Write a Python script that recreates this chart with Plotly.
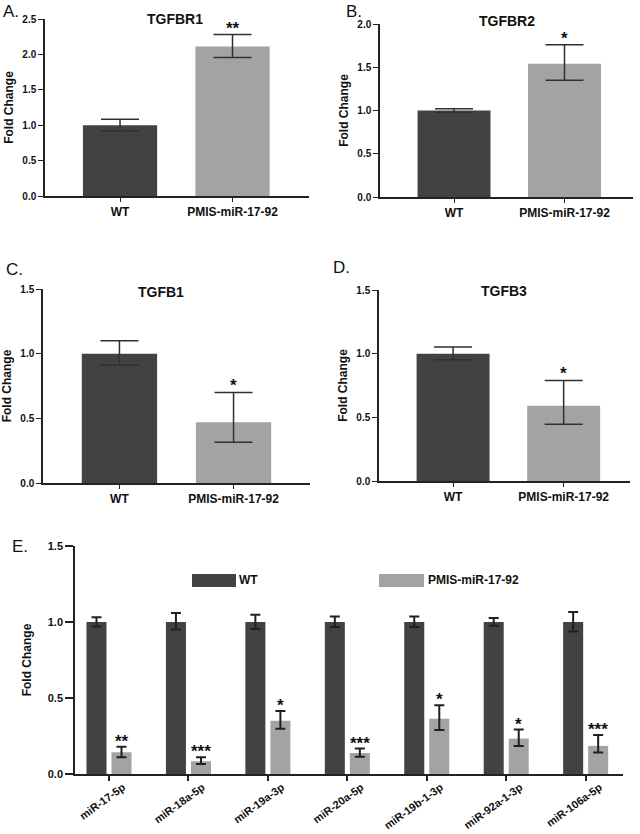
import plotly.graph_objects as go

# ---------------- data ----------------
groups = ["WT", "PMIS-miR-17-92"]

tgfbr1_mean = [1.00, 2.11]
tgfbr1_up = [0.085, 0.17]
tgfbr1_dn = [0.08, 0.155]
tgfbr1_sig = "**"

tgfbr2_mean = [1.00, 1.54]
tgfbr2_up = [0.02, 0.22]
tgfbr2_dn = [0.02, 0.19]
tgfbr2_sig = "*"

tgfb1_mean = [1.00, 0.47]
tgfb1_up = [0.10, 0.23]
tgfb1_dn = [0.09, 0.155]
tgfb1_sig = "*"

tgfb3_mean = [1.00, 0.59]
tgfb3_up = [0.053, 0.20]
tgfb3_dn = [0.047, 0.145]
tgfb3_sig = "*"

mirnas = ["miR-17-5p", "miR-18a-5p", "miR-19a-3p", "miR-20a-5p",
          "miR-19b-1-3p", "miR-92a-1-3p", "miR-106a-5p"]
wt_mean = [1.0, 1.0, 1.0, 1.0, 1.0, 1.0, 1.0]
wt_up = [0.031, 0.059, 0.048, 0.037, 0.037, 0.026, 0.066]
wt_dn = [0.029, 0.050, 0.046, 0.033, 0.033, 0.024, 0.062]
pmis_mean = [0.143, 0.084, 0.350, 0.138, 0.363, 0.233, 0.185]
pmis_up = [0.037, 0.026, 0.065, 0.029, 0.090, 0.059, 0.072]
pmis_dn = [0.033, 0.018, 0.053, 0.024, 0.073, 0.048, 0.044]
mir_sig = ["**", "***", "*", "***", "*", "*", "***"]

# ---------------- style ----------------
W, H = 640, 834
DARK = "#424242"
LIGHT = "#a3a3a3"
AXC = "#222222"
FONT = "Liberation Sans, Arial, sans-serif"


def px(x):
    return x / W


def py(y):
    return 1 - y / H


def bfont(size):
    return dict(family=FONT, size=size, color="#111", weight="bold")


fig = go.Figure()

panels = [
    ("TGFBR1", tgfbr1_mean, tgfbr1_up, tgfbr1_dn, tgfbr1_sig,
     (45, 309), (196, 19), 2.5, [-0.667, 1.68], (175, 19), (1, 11), "A."),
    ("TGFBR2", tgfbr2_mean, tgfbr2_up, tgfbr2_dn, tgfbr2_sig,
     (380, 633), (197, 24), 2.0, [-0.67, 1.62], (507, 21), (344, 11), "B."),
    ("TGFB1", tgfb1_mean, tgfb1_up, tgfb1_dn, tgfb1_sig,
     (43, 310), (483, 289), 1.5, [-0.67, 1.67], (161, 292), (4, 269), "C."),
    ("TGFB3", tgfb3_mean, tgfb3_up, tgfb3_dn, tgfb3_sig,
     (379, 630), (481, 290), 1.5, [-0.67, 1.60], (504, 291), (331, 267), "D."),
]

annotations = []
for i, (name, mean, up, dn, sig, xd, yd, ymax, xr, tpos, lpos, letter) in enumerate(panels):
    k = i + 1
    xa = "x" if k == 1 else f"x{k}"
    ya = "y" if k == 1 else f"y{k}"
    fig.add_trace(go.Bar(
        x=groups, y=mean, xaxis=xa, yaxis=ya, width=0.66,
        marker=dict(color=[DARK, LIGHT], line=dict(width=0)),
        error_y=dict(type="data", symmetric=False, array=up, arrayminus=dn,
                     color="#303030", thickness=1.5, width=19),
        showlegend=False, hoverinfo="skip"))
    xkey = "xaxis" if k == 1 else f"xaxis{k}"
    ykey = "yaxis" if k == 1 else f"yaxis{k}"
    fig.update_layout(**{
        xkey: dict(domain=[px(xd[0]), px(xd[1])], anchor=ya, type="category",
                   range=xr, showline=True, linecolor=AXC, linewidth=1.5,
                   ticks="outside", ticklen=4, tickwidth=1.2, tickcolor=AXC,
                   showgrid=False, zeroline=False, automargin=False,
                   tickfont=bfont(12), fixedrange=True),
        ykey: dict(domain=[py(yd[0]), py(yd[1])], anchor=xa, range=[0, ymax],
                   dtick=0.5, tickformat=".1f", showline=True, linecolor=AXC,
                   linewidth=1.5, ticks="outside", ticklen=5, tickwidth=1.2,
                   tickcolor=AXC, showgrid=False, zeroline=False, automargin=False,
                   tickfont=bfont(10),
                   title=dict(text="Fold Change", standoff=6, font=bfont(12)),
                   fixedrange=True),
    })
    annotations.append(dict(x=groups[1], y=mean[1] + up[1], xref=xa, yref=ya,
                            text=sig, showarrow=False,
                            yanchor="bottom", yshift=-5, font=bfont(17)))
    annotations.append(dict(x=px(tpos[0]), y=py(tpos[1]), xref="paper", yref="paper",
                            text=name, showarrow=False,
                            xanchor="center", yanchor="middle", font=bfont(14)))
    annotations.append(dict(x=px(lpos[0]), y=py(lpos[1]), xref="paper", yref="paper",
                            text=letter, showarrow=False,
                            xanchor="left", yanchor="middle",
                            font=dict(family=FONT, size=17, color="#111")))

# ---------------- panel E ----------------
fig.add_trace(go.Bar(
    x=mirnas, y=wt_mean, name="WT", xaxis="x5", yaxis="y5",
    marker=dict(color=DARK, line=dict(width=0)),
    error_y=dict(type="data", symmetric=False, array=wt_up, arrayminus=wt_dn,
                 color="#202020", thickness=2, width=5),
    showlegend=False, hoverinfo="skip"))
fig.add_trace(go.Bar(
    x=mirnas, y=pmis_mean, name="PMIS-miR-17-92", xaxis="x5", yaxis="y5",
    marker=dict(color=LIGHT, line=dict(width=0)),
    error_y=dict(type="data", symmetric=False, array=pmis_up, arrayminus=pmis_dn,
                 color="#202020", thickness=2, width=5),
    showlegend=False, hoverinfo="skip"))

fig.update_layout(
    barmode="group", bargap=0.37, bargroupgap=0.2,
    xaxis5=dict(domain=[px(75), px(623)], anchor="y5", type="category",
                range=[-0.428, 6.47], showline=True, linecolor=AXC, linewidth=1.5,
                ticks="outside", ticklen=5, tickwidth=1.5, tickcolor=AXC,
                showgrid=False, zeroline=False, tickangle=-36, automargin=False,
                ticklabelshift=14, ticklabelstandoff=-4,
                tickfont=bfont(11), fixedrange=True),
    yaxis5=dict(domain=[py(774), py(546)], anchor="x5", range=[0, 1.5],
                dtick=0.5, tickformat=".1f", showline=True, linecolor=AXC,
                linewidth=1.5, ticks="outside", ticklen=8, tickwidth=1.5,
                tickcolor=AXC, showgrid=False, zeroline=False, automargin=False,
                tickfont=bfont(11),
                title=dict(text="Fold Change", standoff=14, font=bfont(12)),
                fixedrange=True),
)

for m, v, u, s in zip(mirnas, pmis_mean, pmis_up, mir_sig):
    annotations.append(dict(x=m, y=v + u, xref="x5", yref="y5", xshift=12.5,
                            text=s, showarrow=False,
                            yanchor="bottom", yshift=-6, font=bfont(17)))

annotations.append(dict(x=px(10), y=py(546), xref="paper", yref="paper",
                        text="E.", showarrow=False, xanchor="left", yanchor="middle",
                        font=dict(family=FONT, size=17, color="#111")))

shapes = [
    dict(type="rect", xref="paper", yref="paper", x0=px(192), x1=px(236),
         y0=py(587), y1=py(574), fillcolor=DARK, line=dict(width=0)),
    dict(type="rect", xref="paper", yref="paper", x0=px(379), x1=px(424),
         y0=py(587), y1=py(574), fillcolor=LIGHT, line=dict(width=0)),
]
annotations.append(dict(x=px(237), y=py(580), xref="paper", yref="paper",
                        text="WT", showarrow=False, xanchor="left",
                        yanchor="middle", font=bfont(12)))
annotations.append(dict(x=px(426), y=py(580), xref="paper", yref="paper",
                        text="PMIS-miR-17-92", showarrow=False, xanchor="left",
                        yanchor="middle", font=bfont(12)))

fig.update_layout(
    width=W, height=H, autosize=False,
    margin=dict(l=0, r=0, t=0, b=0),
    paper_bgcolor="white", plot_bgcolor="white",
    font=dict(family=FONT, color="#111"),
    annotations=annotations, shapes=shapes,
)

fig.write_html("out.html", config={"displayModeBar": False},
               post_script="document.body.style.margin='0';"
                           "document.body.style.overflow='hidden';")
